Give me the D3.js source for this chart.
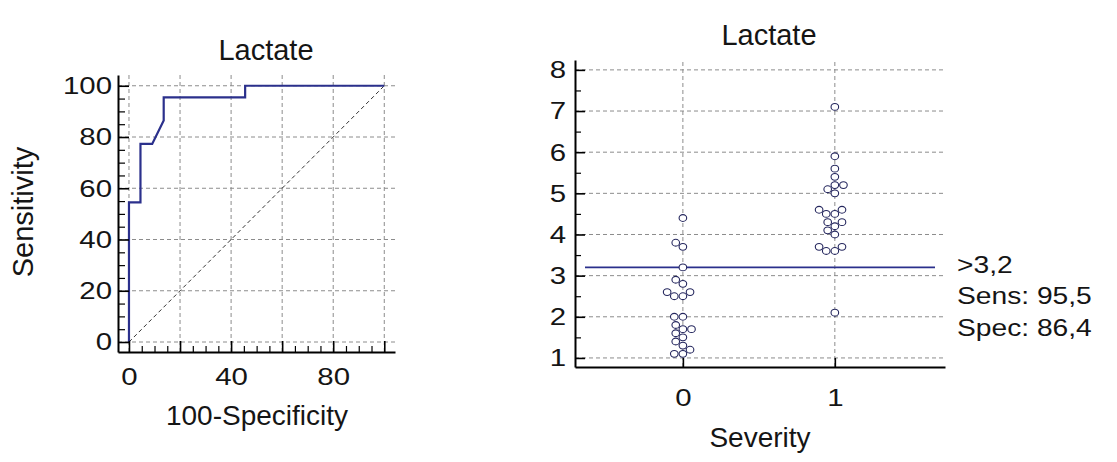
<!DOCTYPE html>
<html>
<head>
<meta charset="utf-8">
<script src="https://cdn.jsdelivr.net/npm/d3@7"></script>
<style>
  body { margin: 0; background: #fff; }
  svg text { font-family: "Liberation Sans", Arial, sans-serif; fill: #151515; }
</style>
</head>
<body>
<svg id="chart" width="1117" height="462"></svg>
<script>
// --- ROC curve: 100-Specificity vs Sensitivity ---
const rocFpr = [0, 0, 4.5, 4.5, 9.1, 13.6, 13.6, 45.5, 45.5, 100];
const rocTpr = [0, 54.5, 54.5, 77.3, 77.3, 86.4, 95.5, 95.5, 100, 100];
const rocTicks = [0, 20, 40, 60, 80, 100];
const rocXLabels = [0, 40, 80];

// --- Dot plot: Lactate by Severity ---
const severity = [0, 1];
const lactate0 = [4.4, 3.8, 3.7, 3.2, 2.9, 2.8, 2.6, 2.6, 2.5, 2.5, 2.0, 2.0,
                  1.8, 1.7, 1.7, 1.6, 1.5, 1.4, 1.3, 1.2, 1.1, 1.1];
const lactate1 = [7.1, 5.9, 5.6, 5.4, 5.2, 5.2, 5.1, 5.0, 4.6, 4.6, 4.5, 4.5,
                  4.3, 4.3, 4.2, 4.1, 4.0, 3.7, 3.7, 3.6, 3.6, 2.1];
const lactateTicks = [1, 2, 3, 4, 5, 6, 7, 8];
const cutoff = 3.2;
const cutoffLabels = [">3,2", "Sens: 95,5", "Spec: 86,4"];

const BLUE = "#2b308c";
const GRID = "#8c8c8c";
const SX = 1.2; // tick labels are drawn a bit wider than normal

const svg = d3.select("#chart");

function wideText(sel, x, y, str, anchor, size) {
    return sel.append("text")
        .attr("transform", `translate(${x},${y}) scale(${SX},1)`)
        .attr("text-anchor", anchor)
        .style("font-size", size + "px")
        .text(str);
}

function styleAxis(g, side) {
    g.select(".domain").attr("stroke", "#000").attr("stroke-width", 2);
    g.selectAll(".tick line").attr("stroke", "#000").attr("stroke-width", 1.6);
    const t = g.selectAll(".tick text").style("font-size", "24.5px").attr("fill", "#151515");
    if (side === "left") {
        const x = +t.attr("x");
        t.attr("x", null).attr("transform", `translate(${x},0) scale(${SX},1)`);
    } else {
        t.attr("transform", `scale(${SX},1)`);
    }
}

function minorTicks(g, axis) {
    g.call(axis);
    g.select(".domain").remove();
    g.selectAll(".tick line").attr("stroke", "#000").attr("stroke-width", 1.2);
}

// ================= Left: ROC =================
{
    const x = d3.scaleLinear().domain([-4.3, 104.2]).range([118, 395]);
    const y = d3.scaleLinear().domain([-3.9, 104.2]).range([352, 75]);
    const g = svg.append("g");

    // grid
    g.selectAll(".hg").data(rocTicks).join("line")
        .attr("x1", x.range()[0]).attr("x2", x.range()[1])
        .attr("y1", d => y(d)).attr("y2", d => y(d))
        .attr("stroke", GRID).attr("stroke-dasharray", "4,3");
    g.selectAll(".vg").data(rocTicks).join("line")
        .attr("y1", y.range()[0]).attr("y2", y.range()[1])
        .attr("x1", d => x(d)).attr("x2", d => x(d))
        .attr("stroke", GRID).attr("stroke-dasharray", "4,3");

    // reference diagonal
    g.append("line")
        .attr("x1", x(0)).attr("y1", y(0)).attr("x2", x(100)).attr("y2", y(100))
        .attr("stroke", "#333").attr("stroke-width", 1).attr("stroke-dasharray", "4,3");

    // ROC line
    const pts = rocFpr.map((f, i) => [f, rocTpr[i]]);
    g.append("path").datum(pts)
        .attr("d", d3.line().x(d => x(d[0])).y(d => y(d[1])))
        .attr("fill", "none").attr("stroke", BLUE).attr("stroke-width", 2.2);

    // axes
    const minor = d3.range(0, 101, 5).filter(v => v % 20 !== 0);
    g.append("g").attr("transform", `translate(${x.range()[0]},0)`)
        .call(mg => minorTicks(mg, d3.axisLeft(y).tickValues(minor).tickFormat("").tickSizeInner(-7).tickSizeOuter(0)));
    g.append("g").attr("transform", `translate(0,${y.range()[0]})`)
        .call(mg => minorTicks(mg, d3.axisBottom(x).tickValues(minor).tickFormat("").tickSizeInner(-6).tickSizeOuter(0)));

    g.append("g").attr("transform", `translate(${x.range()[0]},0)`)
        .call(d3.axisLeft(y).tickValues(rocTicks).tickSizeInner(-11).tickSizeOuter(0).tickPadding(6))
        .call(ag => styleAxis(ag, "left"));
    g.append("g").attr("transform", `translate(0,${y.range()[0]})`)
        .call(d3.axisBottom(x).tickValues(rocTicks)
            .tickFormat(d => rocXLabels.includes(d) ? d : "")
            .tickSizeInner(-11).tickSizeOuter(0).tickPadding(16))
        .call(ag => styleAxis(ag, "bottom"));

    // titles
    g.append("text").attr("x", 266).attr("y", 60).attr("text-anchor", "middle")
        .style("font-size", "29px").text("Lactate");
    g.append("text").attr("x", 257).attr("y", 425).attr("text-anchor", "middle")
        .style("font-size", "28px").text("100-Specificity");
    g.append("text").attr("transform", "translate(33,212) rotate(-90)")
        .attr("text-anchor", "middle").style("font-size", "29px").text("Sensitivity");
}

// ================= Right: dot plot =================
{
    const x = d3.scaleLinear().domain([-0.71, 1.725]).range([575, 945]);
    const y = d3.scaleLinear().domain([0.78, 8.24]).range([367, 60]);
    const g = svg.append("g");

    g.selectAll(".hg").data(lactateTicks).join("line")
        .attr("x1", x.range()[0]).attr("x2", x.range()[1])
        .attr("y1", d => y(d)).attr("y2", d => y(d))
        .attr("stroke", GRID).attr("stroke-dasharray", "4,3");
    g.selectAll(".vg").data(severity).join("line")
        .attr("y1", y.range()[0]).attr("y2", y.range()[1])
        .attr("x1", d => x(d)).attr("x2", d => x(d))
        .attr("stroke", GRID).attr("stroke-dasharray", "4,3");

    // cutoff line
    g.append("line")
        .attr("x1", x.range()[0] + 10).attr("x2", x.range()[1] - 10)
        .attr("y1", y(cutoff)).attr("y2", y(cutoff))
        .attr("stroke", BLUE).attr("stroke-width", 1.6);

    // simple beeswarm so equal / close values sit side by side
    function swarm(values, cx) {
        const dx = 8.6, dy = 7.4;
        const placed = [];
        values.slice().sort((a, b) => a - b).forEach(v => {
            const py = y(v);
            const cands = [0];
            placed.forEach(p => {
                const d = Math.abs(p.y - py);
                if (d < dy) {
                    const h = dx * Math.sqrt(1 - (d / dy) ** 2);
                    cands.push(p.x + h, p.x - h);
                }
            });
            const ok = cands.filter(c => placed.every(p =>
                ((c - p.x) / dx) ** 2 + ((py - p.y) / dy) ** 2 >= 0.999));
            ok.sort((a, b) => Math.abs(a) - Math.abs(b) || a - b);
            placed.push({ x: ok[0], y: py });
        });
        return placed.map(p => ({ cx: cx + p.x, cy: p.y }));
    }

    const dots = [
        ...swarm(lactate0, x(severity[0])),
        ...swarm(lactate1, x(severity[1]))
    ];
    g.selectAll("ellipse").data(dots).join("ellipse")
        .attr("cx", d => d.cx).attr("cy", d => d.cy)
        .attr("rx", 3.8).attr("ry", 3.4)
        .attr("fill", "#fff").attr("stroke", "#25275e").attr("stroke-width", 1.1);

    // axes
    const minor = d3.range(1.5, 8, 1);
    g.append("g").attr("transform", `translate(${x.range()[0]},0)`)
        .call(mg => minorTicks(mg, d3.axisLeft(y).tickValues(minor).tickFormat("").tickSizeInner(-6).tickSizeOuter(0)));
    g.append("g").attr("transform", `translate(${x.range()[0]},0)`)
        .call(d3.axisLeft(y).tickValues(lactateTicks).tickSizeInner(-10).tickSizeOuter(0).tickPadding(9))
        .call(ag => styleAxis(ag, "left"));
    g.append("g").attr("transform", `translate(0,${y.range()[0]})`)
        .call(d3.axisBottom(x).tickValues(severity).tickFormat(d3.format("d"))
            .tickSizeInner(-9).tickSizeOuter(0).tickPadding(22))
        .call(ag => styleAxis(ag, "bottom"));

    // titles
    g.append("text").attr("x", 769).attr("y", 45).attr("text-anchor", "middle")
        .style("font-size", "29px").text("Lactate");
    g.append("text").attr("x", 760).attr("y", 447).attr("text-anchor", "middle")
        .style("font-size", "28px").text("Severity");

    // cutoff annotation
    const ay = [273, 304, 336];
    cutoffLabels.forEach((s, i) => wideText(g, 957, ay[i], s, "start", 23.5));
}
</script>
</body>
</html>
